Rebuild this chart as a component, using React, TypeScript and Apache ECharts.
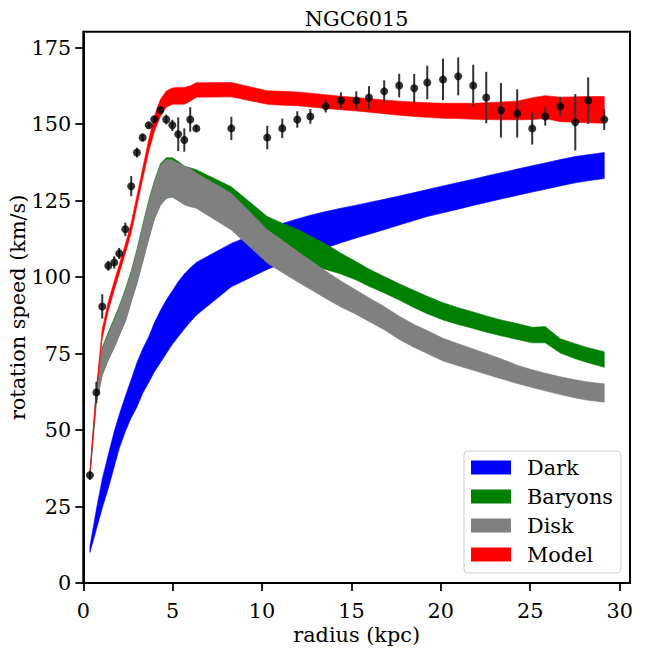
import React, { useEffect, useRef } from 'react';
import * as echarts from 'echarts';

const radius = [0.37, 0.73, 1.06, 1.40, 1.73, 2.01, 2.35, 2.68, 3.00, 3.32, 3.66, 3.97, 4.31, 4.64, 4.98, 5.31, 5.65, 5.98, 6.32, 8.28, 10.29, 11.13, 11.97, 12.70, 13.56, 14.41, 15.27, 15.98, 16.83, 17.67, 18.51, 19.24, 20.12, 20.97, 21.81, 22.54, 23.36, 24.27, 25.11, 25.84, 26.68, 27.52, 28.24, 29.14];
const vObs = [35.2, 62.3, 90.4, 103.7, 104.8, 107.7, 115.6, 129.7, 140.7, 145.6, 149.6, 151.6, 154.6, 151.5, 149.6, 146.7, 144.8, 151.5, 148.6, 148.6, 145.6, 148.6, 151.5, 152.5, 155.8, 157.7, 157.7, 158.7, 160.7, 162.6, 161.7, 163.6, 164.6, 165.6, 162.6, 158.7, 154.5, 153.5, 148.6, 152.5, 155.8, 150.6, 157.7, 151.5];
const vErr = [1.5, 3.5, 4, 1.6, 2, 1.8, 2.2, 3.3, 1.6, 1.3, 1, 1, 1, 1.6, 1.8, 5.5, 3.8, 4, 1, 3.8, 3.85, 3.2, 2.7, 2.4, 2, 2.7, 3, 3.7, 3.6, 3.85, 4.7, 5.5, 6.8, 6.2, 6.8, 8.4, 8.9, 7.9, 5.3, 3, 3.1, 9.2, 7.6, 3.4];

const darkLo = [10, 17.5, 24.5, 31, 38, 44, 49.5, 54, 57.5, 62, 65.5, 69, 72, 75, 78, 80.5, 83, 85.3, 87.5, 96.8, 102.5, 104.5, 106.4, 108, 109.5, 111.2, 112.8, 114, 115.5, 117, 118.5, 119.8, 121, 122.2, 123.4, 124.4, 125.5, 126.7, 127.8, 128.7, 129.8, 130.8, 131.5, 132.2];
const darkHi = [12, 24, 34, 42, 49.5, 55, 61, 66.5, 72, 76.5, 80.5, 85, 89, 92.5, 95.5, 98.5, 101, 103, 104.8, 111, 115.8, 117.5, 119, 120.2, 121.4, 122.5, 123.5, 124.4, 125.4, 126.5, 127.6, 128.6, 129.8, 130.9, 132, 133, 134.1, 135.3, 136.4, 137.3, 138.4, 139.4, 140, 140.7];

const baryonLo = [35, 59, 68, 73, 77, 81, 85.5, 92, 98, 105, 112.5, 119, 123.5, 125.8, 126.2, 125, 124, 124, 124, 119, 111, 109, 106.5, 104, 102.5, 101, 99, 97, 94.8, 92.5, 90, 88, 86, 84.5, 83.2, 82, 80.8, 79.6, 78.5, 78.5, 75.2, 73.3, 72, 70.5];
const baryonHi = [36, 63, 77, 82, 86.5, 90.5, 96, 102, 109, 117, 125, 131.3, 137, 139, 139, 137.8, 136.3, 135.7, 135.1, 129.5, 119.8, 117.6, 115.6, 113.4, 110.8, 107.8, 105, 102.6, 100.2, 97.8, 95.6, 93.7, 91.6, 90, 88.6, 87.3, 86, 84.8, 83.6, 83.8, 79.8, 78.2, 76.9, 75.6];

const diskLo = [35, 59, 68, 73, 77, 81, 85.5, 92, 98, 105, 112.5, 119, 123.5, 125.8, 126.2, 125, 123.6, 123, 122.5, 115.4, 104.6, 101.5, 98.5, 96, 93, 90.2, 87.8, 85.5, 82.8, 79.6, 77, 75, 72.6, 71, 69.5, 68.2, 66.8, 65.2, 63.9, 62.8, 61.6, 60.5, 59.7, 59.1];
const diskHi = [35.5, 62.5, 76.5, 81.5, 86, 90, 95.5, 101.5, 108.5, 116.5, 124.5, 130.8, 136.5, 138.5, 138.3, 137.2, 136.3, 135.5, 134, 127.4, 115.5, 112, 108.5, 105.5, 102, 98.7, 95.7, 93.2, 90.4, 87.2, 84.5, 82.5, 80, 78.2, 76.5, 75, 73.3, 71.2, 69.7, 68.6, 67.4, 66.4, 65.7, 65.1];

const modelLo = [35, 61.5, 80, 89, 95.7, 101, 107.7, 114.5, 123.2, 132, 141, 147.5, 152.5, 155.5, 156.5, 156.5, 156.5, 157.5, 158.8, 158.9, 156.5, 156.2, 156, 155.6, 155.1, 154.7, 154.3, 153.9, 153.4, 152.9, 152.5, 152.2, 151.9, 151.8, 151.6, 151.5, 151.4, 151.4, 151.5, 151.8, 150.8, 150.6, 150.4, 150.3];
const modelHi = [36, 63.5, 83, 92, 98.7, 104, 110.7, 117.7, 126.6, 135.5, 145, 152.5, 158, 160.8, 161.8, 162, 162, 162.5, 163.5, 163.6, 160.9, 160.7, 160.5, 160.1, 159.6, 159.1, 158.7, 158.3, 157.9, 157.5, 157.2, 157, 156.8, 156.8, 156.8, 157, 157.2, 157.5, 158.6, 159.3, 158.8, 158.9, 159, 159];

const xTicks = [0, 5, 10, 15, 20, 25, 30];
const yTicks = [0, 25, 50, 75, 100, 125, 150, 175];
const legendNames = ['Dark', 'Baryons', 'Disk', 'Model'];
const titleText = 'NGC6015';

const FONT = 'DejaVu Serif';
const FS = 20.8;

export default function App() {
  const ref = useRef<HTMLDivElement>(null);
  useEffect(() => {
    const chart = echarts.init(ref.current as HTMLDivElement, null, { renderer: 'svg' });
    const band = (name: string, lo: number[], hi: number[], color: string) => ({
      type: 'custom',
      name,
      silent: true,
      itemStyle: { color },
      data: radius.map((r, i) => [r, lo[i], hi[i]]),
      encode: { x: 0, y: [1, 2] },
      renderItem: (params: any, api: any) => {
        if (params.dataIndex !== 0) return null;
        const pts: number[][] = [];
        for (let i = 0; i < radius.length; i++) pts.push(api.coord([radius[i], hi[i]]));
        for (let i = radius.length - 1; i >= 0; i--) pts.push(api.coord([radius[i], lo[i]]));
        return {
          type: 'polygon',
          shape: { points: pts },
          style: { fill: color, stroke: color, lineWidth: 0.6 },
        };
      },
    });

    const axisCommon = {
      axisLine: { show: true, lineStyle: { color: '#000', width: 2 } },
      axisTick: { show: true, inside: false, length: 8, lineStyle: { color: '#000', width: 1.75 } },
      splitLine: { show: false },
      nameLocation: 'middle',
      nameMoveOverlap: false,
      nameTextStyle: { fontFamily: FONT, fontSize: FS, color: '#000' },
    };

    chart.setOption({
      animation: false,
      backgroundColor: '#fff',
      grid: {
        left: 83.3, top: 31.7, right: 18, bottom: 65,
        containLabel: false,
        outerBoundsMode: 'none',
        show: true, borderColor: '#000', borderWidth: 2, backgroundColor: 'transparent',
      },
      xAxis: {
        type: 'value', min: 0, max: 30.58,
        name: 'radius (kpc)', nameGap: 41,
        ...axisCommon,
        axisTick: { ...axisCommon.axisTick, customValues: xTicks },
        axisLabel: { customValues: xTicks, fontFamily: FONT, fontSize: FS, color: '#000', margin: 17 },
      },
      yAxis: {
        type: 'value', min: 0, max: 180.2,
        name: 'rotation speed (km/s)', nameGap: 55,
        ...axisCommon,
        axisTick: { ...axisCommon.axisTick, customValues: yTicks },
        axisLabel: { customValues: yTicks, fontFamily: FONT, fontSize: FS, color: '#000', margin: 12 },
      },
      legend: {
        data: legendNames,
        orient: 'vertical',
        left: 464, top: 451,
        itemWidth: 40, itemHeight: 14, itemGap: 0,
        icon: 'rect',
        selectedMode: false,
        padding: [2, 8, 4, 7],
        backgroundColor: '#fff',
        borderColor: '#cccccc', borderWidth: 1, borderRadius: 4,
        textStyle: { fontFamily: FONT, fontSize: FS, color: '#000', lineHeight: 29, padding: [0, 0, 0, 11] },
      },
      graphic: [
        {
          type: 'text', x: 356.7, y: 19.3,
          style: { text: titleText, fontFamily: FONT, fontSize: FS, fill: '#000', align: 'center', verticalAlign: 'middle' },
        },
      ],
      series: [
        band('Dark', darkLo, darkHi, '#0000ff'),
        band('Baryons', baryonLo, baryonHi, '#008000'),
        band('Disk', diskLo, diskHi, '#808080'),
        band('Model', modelLo, modelHi, '#ff0000'),
        {
          type: 'custom',
          silent: true,
          data: radius.map((r, i) => [r, vObs[i], vErr[i]]),
          encode: { x: 0, y: 1 },
          renderItem: (params: any, api: any) => {
            const x = api.value(0), v = api.value(1), e = api.value(2);
            const p1 = api.coord([x, v - e]);
            const p2 = api.coord([x, v + e]);
            return {
              type: 'line',
              shape: { x1: p1[0], y1: p1[1], x2: p2[0], y2: p2[1] },
              style: { stroke: '#333333', lineWidth: 2 },
            };
          },
        },
        {
          type: 'scatter',
          silent: true,
          symbol: 'circle',
          symbolSize: 8,
          itemStyle: { color: '#000' },
          data: radius.map((r, i) => [r, vObs[i]]),
        },
      ],
    });
    return () => chart.dispose();
  }, []);
  return <div ref={ref} style={{ position: 'fixed', left: 0, top: 0, width: 648, height: 648 }} />;
}
